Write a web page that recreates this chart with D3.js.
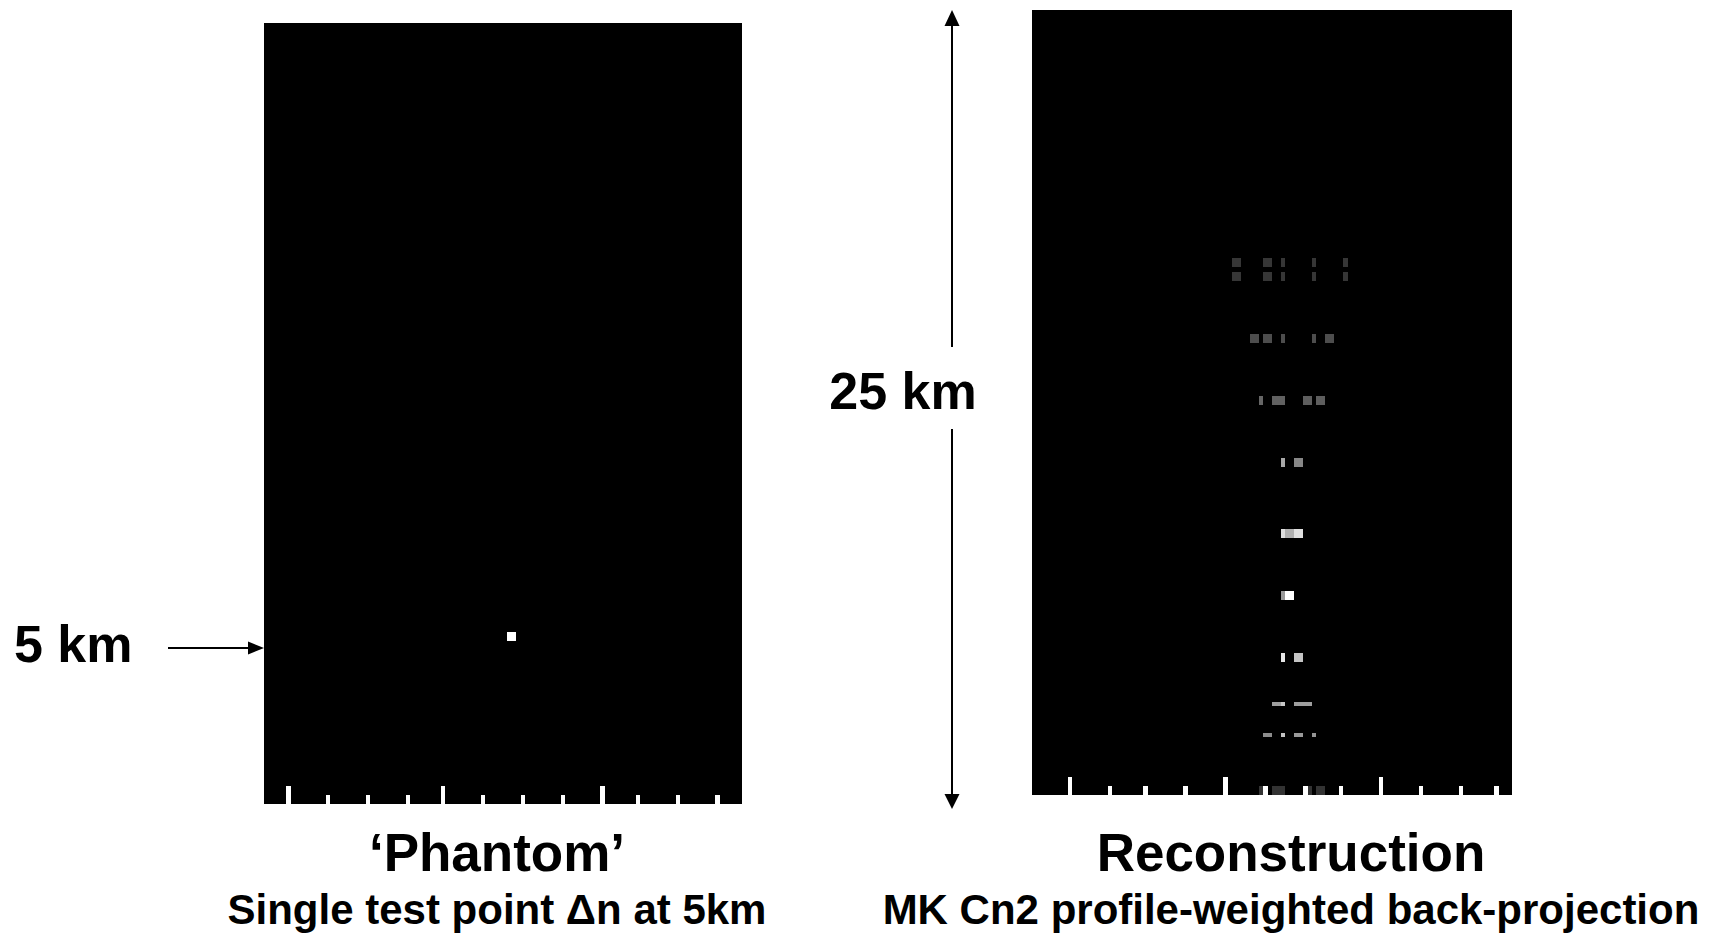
<!DOCTYPE html>
<html lang="en">
<head>
    <meta charset="UTF-8">
    <title>Phantom vs Reconstruction</title>
    <script type="text/javascript" src="https://d3js.org/d3.v7.min.js"></script>
    <style>
        body { margin: 0; background: #fff; }
        text { font-family: "Liberation Sans", Arial, sans-serif; font-weight: bold; fill: #000; }
        .cell { shape-rendering: crispEdges; }
    </style>
</head>
<body>
<script type="text/javascript">

    // grid size of both images (columns x rows), row 0 = bottom
    var nCols = 108;
    var nRows = 177;

    // phantom: one test point  [col, row, intensity 0..1]
    var phantomCells = [
        [55, 37, 1], [56, 37, 1], [55, 38, 1], [56, 38, 1]
    ];

    // reconstruction: back-projected cells  [col, row, intensity 0..1]
    var reconCells = [
        // top band
        [45, 120, 0.21], [46, 120, 0.21], [52, 120, 0.21], [53, 120, 0.21], [56, 120, 0.21], [63, 120, 0.21], [70, 120, 0.21],
        [45, 119, 0.21], [46, 119, 0.21], [52, 119, 0.21], [53, 119, 0.21], [56, 119, 0.21], [63, 119, 0.21], [70, 119, 0.21],
        [45, 117, 0.21], [46, 117, 0.21], [52, 117, 0.21], [53, 117, 0.21], [56, 117, 0.21], [63, 117, 0.21], [70, 117, 0.21],
        [45, 116, 0.21], [46, 116, 0.21], [52, 116, 0.21], [53, 116, 0.21], [56, 116, 0.21], [63, 116, 0.21], [70, 116, 0.21],
        [49, 103, 0.3], [50, 103, 0.3], [52, 103, 0.3], [53, 103, 0.3], [56, 103, 0.3], [63, 103, 0.3], [66, 103, 0.3], [67, 103, 0.3],
        [49, 102, 0.3], [50, 102, 0.3], [52, 102, 0.3], [53, 102, 0.3], [56, 102, 0.3], [63, 102, 0.3], [66, 102, 0.3], [67, 102, 0.3],
        [51, 89, 0.4], [54, 89, 0.38], [55, 89, 0.38], [56, 89, 0.38], [61, 89, 0.37], [62, 89, 0.37], [64, 89, 0.37], [65, 89, 0.37],
        [51, 88, 0.4], [54, 88, 0.38], [55, 88, 0.38], [56, 88, 0.38], [61, 88, 0.37], [62, 88, 0.37], [64, 88, 0.37], [65, 88, 0.37],
        [56, 75, 0.66], [59, 75, 0.53], [60, 75, 0.53],
        [56, 74, 0.66], [59, 74, 0.53], [60, 74, 0.53],
        [56, 59, 0.87], [57, 59, 0.69], [58, 59, 0.69], [59, 59, 0.88], [60, 59, 0.88],
        [56, 58, 0.87], [57, 58, 0.69], [58, 58, 0.69], [59, 58, 0.88], [60, 58, 0.88],
        [56, 45, 0.6], [57, 45, 1], [58, 45, 1],
        [56, 44, 0.6], [57, 44, 1], [58, 44, 1],
        [56, 31, 0.9], [59, 31, 0.77], [60, 31, 0.77],
        [56, 30, 0.9], [59, 30, 0.77], [60, 30, 0.77],
        [54, 20, 0.62], [55, 20, 0.62], [56, 20, 0.78], [59, 20, 0.62], [60, 20, 0.62], [61, 20, 0.62], [62, 20, 0.62],
        [52, 13, 0.55], [53, 13, 0.55], [56, 13, 0.76], [59, 13, 0.6], [60, 13, 0.6], [63, 13, 0.58],
        // bottom band
        [51, 1, 0.2], [54, 1, 0.2], [55, 1, 0.2], [56, 1, 0.2], [62, 1, 0.2], [64, 1, 0.2], [65, 1, 0.2],
        [51, 0, 0.2], [54, 0, 0.2], [55, 0, 0.2], [56, 0, 0.2], [62, 0, 0.2], [64, 0, 0.2], [65, 0, 0.2]
    ];

    // tick marks burned into the images (columns)
    var phantomTicks = [5, 14, 23, 32, 40, 49, 58, 67, 76, 84, 93, 102];
    var phantomMajor = [5, 40, 76];
    var reconTicks = [8, 17, 25, 34, 43, 52, 61, 69, 78, 87, 96, 104];
    var reconMajor = [8, 43, 78];

    // texts
    var titles = ["\u2018Phantom\u2019", "Reconstruction"];
    var subtitles = ["Single test point \u0394n at 5km", "MK Cn2 profile-weighted back-projection"];

    const width = 1711;
    const height = 934;

    let svg = d3.select('body').append('svg')
        .attr('width', width)
        .attr('height', height);

    var gray = d3.scaleLinear().domain([0, 1]).range(["#000", "#fff"]);

    // draw one image panel
    var drawPanel = function (x0, y0, w, h, cells, ticks, major) {
        var g = svg.append('g').attr('transform', 'translate(' + x0 + ',' + y0 + ')');

        var xScale = d3.scaleBand().domain(d3.range(nCols)).range([0, w]);
        var yScale = d3.scaleBand().domain(d3.range(nRows)).range([h, 0]);

        g.append('rect')
            .attr('width', w).attr('height', h)
            .attr('fill', '#000');

        g.selectAll('rect.cell')
            .data(cells)
            .enter()
            .append('rect')
            .attr('class', 'cell')
            .attr('x', d => xScale(d[0]))
            .attr('y', d => yScale(d[1]))
            .attr('width', xScale.bandwidth())
            .attr('height', yScale.bandwidth())
            .attr('fill', d => gray(d[2]));

        // ticks: major 4 rows high, minor 2 rows
        g.selectAll('rect.tick')
            .data(ticks)
            .enter()
            .append('rect')
            .attr('class', 'cell tick')
            .attr('x', d => xScale(d))
            .attr('y', d => yScale(major.indexOf(d) >= 0 ? 3 : 1))
            .attr('width', xScale.bandwidth())
            .attr('height', d => (major.indexOf(d) >= 0 ? 4 : 2) * yScale.bandwidth())
            .attr('fill', '#fff');
    }

    drawPanel(264, 23, 478, 781, phantomCells, phantomTicks, phantomMajor);
    drawPanel(1032, 10, 480, 785, reconCells, reconTicks, reconMajor);

    // titles under the panels
    var centers = [497, 1291];
    svg.selectAll('text.title')
        .data(titles)
        .enter()
        .append('text')
        .attr('class', 'title')
        .attr('x', (d, i) => centers[i])
        .attr('y', 871)
        .attr('text-anchor', 'middle')
        .style('font-size', '53px')
        .text(d => d);

    svg.selectAll('text.sub')
        .data(subtitles)
        .enter()
        .append('text')
        .attr('class', 'sub')
        .attr('x', (d, i) => centers[i])
        .attr('y', 924)
        .attr('text-anchor', 'middle')
        .style('font-size', '42px')
        .text(d => d);

    // "5 km" marker with arrow
    svg.append('text')
        .attr('x', 14).attr('y', 662)
        .style('font-size', '52px')
        .text('5 km');

    svg.append('line')
        .attr('x1', 168).attr('y1', 648)
        .attr('x2', 250).attr('y2', 648)
        .attr('stroke', '#000').attr('stroke-width', 2);
    svg.append('path')
        .attr('d', 'M264,648 L248,641.5 L248,654.5 Z')
        .attr('fill', '#000');

    // "25 km" double arrow
    svg.append('text')
        .attr('x', 903).attr('y', 409)
        .attr('text-anchor', 'middle')
        .style('font-size', '52px')
        .text('25 km');

    svg.append('line')
        .attr('x1', 952).attr('y1', 25)
        .attr('x2', 952).attr('y2', 347)
        .attr('stroke', '#000').attr('stroke-width', 2);
    svg.append('line')
        .attr('x1', 952).attr('y1', 429)
        .attr('x2', 952).attr('y2', 795)
        .attr('stroke', '#000').attr('stroke-width', 2);
    svg.append('path')
        .attr('d', 'M952,10 L944.5,26 L959.5,26 Z')
        .attr('fill', '#000');
    svg.append('path')
        .attr('d', 'M952,809 L944.5,794 L959.5,794 Z')
        .attr('fill', '#000');

</script>
</body>
</html>
